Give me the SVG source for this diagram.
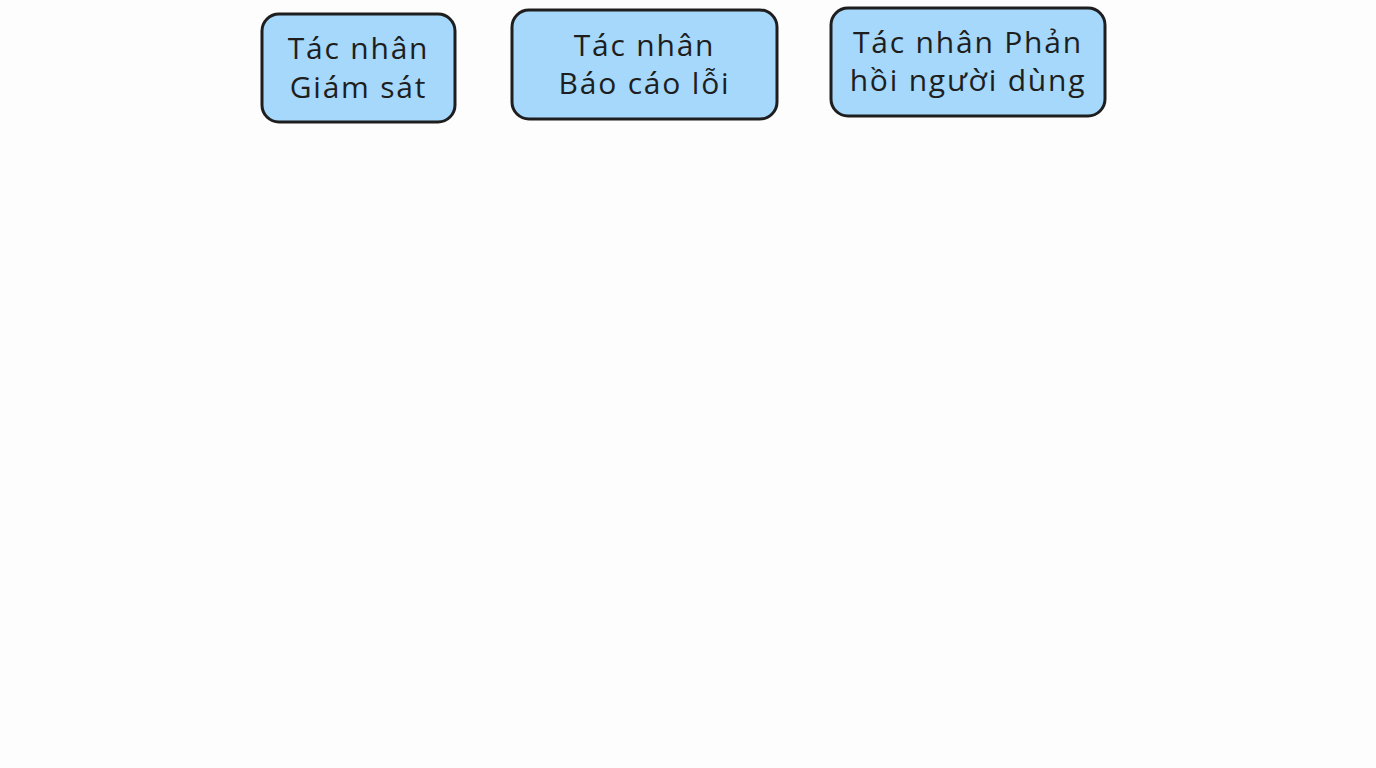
<svg xmlns="http://www.w3.org/2000/svg" width="1376" height="768" viewBox="0 0 1376 768">
<style>
.box{fill:#a5d8fb;stroke:#1e1e1e;stroke-width:3}
.lbl{font-family:"Open Sans","Liberation Sans",sans-serif;font-size:30px;fill:#1e1e1e;text-anchor:middle;letter-spacing:1.8px}
</style>
<rect width="1376" height="768" fill="#fdfdfd"/>
<g id="connectors"></g>
<g id="node-giam-sat">
<rect class="box" x="262" y="14" width="193" height="108" rx="17"/>
<text class="lbl" x="358.5" y="59">Tác nhân</text>
<text class="lbl" x="358.5" y="98">Giám sát</text>
</g>
<g id="node-bao-cao-loi">
<rect class="box" x="512" y="10" width="265" height="109" rx="17"/>
<text class="lbl" x="644.5" y="56">Tác nhân</text>
<text class="lbl" x="644.5" y="94">Báo cáo lỗi</text>
</g>
<g id="node-phan-hoi">
<rect class="box" x="831" y="8" width="274" height="108" rx="17"/>
<text class="lbl" x="968" y="53">Tác nhân Phản</text>
<text class="lbl" x="968" y="91">hồi người dùng</text>
</g>
</svg>
